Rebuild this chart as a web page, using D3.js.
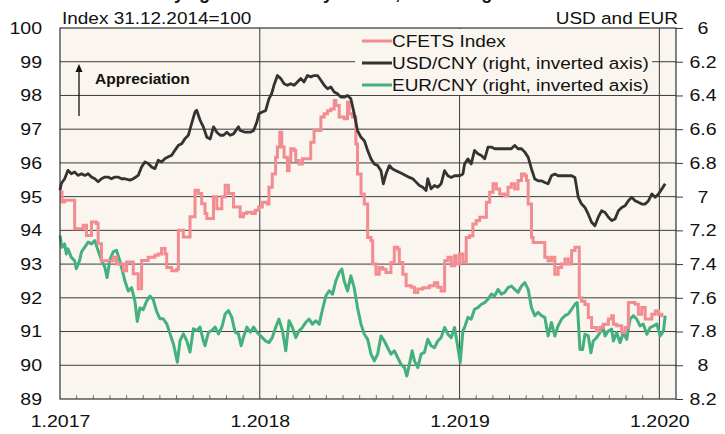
<!DOCTYPE html>
<html>
<head>
<meta charset="utf-8">
<script src="https://cdn.jsdelivr.net/npm/d3@7"></script>
<style>
  body { margin: 0; background: #fff; }
  text { font-family: "Liberation Sans", Arial, sans-serif; fill: #111; }
</style>
</head>
<body>
<svg id="chart" width="725" height="434"></svg>
<script>
// x = months since 1.2017
const yearTicks = [0, 12, 24, 36];
const yearLabels = ["1.2017", "1.2018", "1.2019", "1.2020"];
const leftTicks = [89, 90, 91, 92, 93, 94, 95, 96, 97, 98, 99, 100];
const rightTicks = [6, 6.2, 6.4, 6.6, 6.8, 7, 7.2, 7.4, 7.6, 7.8, 8, 8.2];
const seriesNames = ["CFETS Index", "USD/CNY (right, inverted axis)", "EUR/CNY (right, inverted axis)"];

// CFETS index (left axis)
const cfets = [[0.04,95.14],[0.12,94.84],[0.28,94.89],[0.88,94.05],[1.39,94.15],[1.59,93.85],[1.89,94.25],[2.19,94.2],[2.29,93.6],[2.49,93.1],[3.19,93.2],[3.39,93.0],[3.8,92.8],[4.0,93.06],[4.4,92.71],[4.7,92.27],[4.9,93.11],[5.3,93.2],[5.7,93.26],[5.9,93.3],[6.1,93.46],[6.31,93.3],[6.41,92.9],[6.71,92.8],[7.01,92.85],[7.11,94.0],[7.41,93.8],[7.81,94.4],[8.11,95.19],[8.31,95.09],[8.51,94.79],[8.71,94.5],[8.82,94.35],[9.22,95.0],[9.42,94.64],[9.72,95.0],[9.92,95.34],[10.12,95.09],[10.42,94.69],[10.82,94.4],[11.02,94.5],[11.22,94.54],[11.53,94.5],[11.73,94.6],[11.93,94.69],[12.15,94.83],[12.45,94.78],[12.55,95.28],[12.75,95.67],[12.95,96.17],[13.06,96.47],[13.2,96.91],[13.32,96.47],[13.46,96.17],[13.66,95.77],[13.76,96.07],[13.86,96.42],[14.06,96.37],[14.16,96.07],[14.36,95.97],[14.56,96.12],[15.06,96.61],[15.26,96.96],[15.67,97.36],[15.87,97.46],[16.07,97.55],[16.27,97.6],[16.47,97.85],[16.57,97.7],[16.77,97.36],[17.07,97.31],[17.27,97.8],[17.37,97.46],[17.57,97.36],[17.77,96.56],[17.87,95.67],[18.08,95.08],[18.28,94.78],[18.48,93.79],[18.68,93.69],[18.78,93.0],[18.98,92.7],[19.18,92.9],[19.38,92.85],[19.58,92.75],[19.88,93.05],[20.08,93.5],[20.28,93.45],[20.38,93.05],[20.59,92.7],[20.79,92.36],[21.09,92.31],[21.29,92.16],[21.49,92.26],[21.79,92.3],[22.19,92.36],[22.49,92.45],[22.69,92.31],[22.89,92.2],[23.1,93.1],[23.3,93.2],[23.5,92.95],[23.7,93.25],[23.8,93.0],[24.0,93.3],[24.2,93.05],[24.4,93.79],[24.6,93.84],[24.8,94.19],[25.0,94.29],[25.21,94.39],[25.61,94.83],[25.81,95.13],[26.01,95.38],[26.21,95.23],[26.41,95.08],[26.71,95.03],[26.91,95.28],[27.11,95.38],[27.31,95.23],[27.51,95.48],[27.72,95.67],[27.92,95.62],[28.02,95.48],[28.12,94.78],[28.32,93.79],[28.42,93.64],[29.12,93.2],[29.32,93.1],[29.52,93.2],[29.72,92.7],[29.92,92.9],[30.13,93.0],[30.33,93.15],[30.53,93.0],[30.73,93.4],[30.93,93.5],[31.19,92.0],[31.33,91.9],[31.53,91.8],[31.73,91.42],[31.93,91.12],[32.23,91.02],[32.43,91.12],[32.64,91.22],[32.94,91.37],[33.14,91.47],[33.24,91.22],[33.44,91.17],[33.74,90.97],[33.94,91.12],[34.14,91.86],[34.54,91.81],[34.74,91.51],[34.94,91.71],[35.15,91.37],[35.55,91.51],[35.75,91.61],[35.95,91.51],[36.15,91.47],[36.25,91.47]];

// USD/CNY (right axis, inverted)
const usdcny = [[0,6.962],[0.08,6.922],[0.28,6.894],[0.48,6.844],[0.68,6.864],[0.88,6.854],[1.08,6.874],[1.29,6.864],[1.49,6.874],[1.69,6.864],[1.89,6.884],[2.09,6.894],[2.29,6.912],[2.49,6.894],[2.69,6.884],[2.89,6.884],[3.09,6.894],[3.29,6.884],[3.49,6.884],[3.69,6.894],[3.9,6.894],[4.2,6.902],[4.4,6.894],[4.7,6.874],[4.9,6.824],[5.1,6.794],[5.3,6.804],[5.5,6.824],[5.7,6.834],[5.9,6.784],[6.1,6.794],[6.31,6.774],[6.51,6.764],[6.71,6.754],[6.91,6.724],[7.11,6.696],[7.31,6.686],[7.51,6.656],[7.71,6.636],[7.91,6.566],[8.11,6.498],[8.21,6.488],[8.41,6.546],[8.61,6.586],[8.82,6.648],[9.02,6.658],[9.22,6.586],[9.42,6.618],[9.62,6.636],[9.82,6.636],[10.02,6.618],[10.22,6.636],[10.42,6.628],[10.72,6.586],[10.82,6.608],[11.12,6.618],[11.43,6.618],[11.63,6.608],[11.83,6.556],[11.95,6.508],[12.15,6.498],[12.35,6.49],[12.55,6.42],[12.71,6.39],[12.85,6.34],[13.06,6.282],[13.26,6.3],[13.46,6.33],[13.66,6.34],[13.86,6.33],[14.06,6.34],[14.26,6.32],[14.46,6.3],[14.66,6.32],[14.86,6.282],[15.06,6.29],[15.26,6.282],[15.47,6.282],[15.67,6.31],[15.87,6.34],[16.07,6.36],[16.27,6.35],[16.47,6.38],[16.67,6.39],[16.87,6.41],[17.07,6.41],[17.27,6.4],[17.47,6.42],[17.67,6.508],[17.87,6.608],[18.08,6.648],[18.28,6.668],[18.48,6.726],[18.68,6.776],[18.88,6.806],[19.08,6.816],[19.28,6.846],[19.42,6.924],[19.58,6.866],[19.78,6.816],[19.98,6.836],[20.18,6.846],[20.38,6.856],[20.59,6.866],[20.79,6.876],[20.99,6.886],[21.19,6.894],[21.39,6.914],[21.59,6.934],[21.79,6.944],[21.99,6.964],[22.09,6.894],[22.29,6.954],[22.49,6.934],[22.69,6.944],[22.89,6.924],[23.1,6.846],[23.3,6.876],[23.5,6.886],[23.7,6.876],[24.0,6.876],[24.2,6.866],[24.3,6.806],[24.5,6.776],[24.7,6.806],[24.9,6.726],[25.1,6.746],[25.31,6.756],[25.51,6.776],[25.71,6.706],[25.91,6.706],[26.11,6.716],[26.51,6.716],[26.91,6.716],[27.11,6.716],[27.31,6.696],[27.51,6.716],[27.72,6.716],[27.92,6.736],[28.12,6.766],[28.32,6.836],[28.52,6.896],[28.72,6.906],[28.92,6.906],[29.12,6.916],[29.32,6.924],[29.52,6.876],[29.72,6.866],[29.92,6.876],[30.33,6.876],[30.73,6.876],[30.93,6.886],[31.13,7.004],[31.33,7.044],[31.53,7.064],[31.73,7.104],[31.93,7.152],[32.13,7.172],[32.33,7.122],[32.53,7.084],[32.74,7.094],[32.94,7.122],[33.14,7.142],[33.34,7.132],[33.54,7.084],[33.74,7.064],[33.94,7.054],[34.14,7.024],[34.34,7.004],[34.54,7.024],[34.74,7.034],[34.94,7.044],[35.15,7.044],[35.35,7.024],[35.55,6.984],[35.75,7.004],[35.95,6.984],[36.15,6.954],[36.35,6.924]];

// EUR/CNY (right axis, inverted)
const eurcny = [[0,7.23],[0.12,7.3],[0.28,7.28],[0.38,7.34],[0.48,7.31],[0.68,7.36],[0.88,7.38],[0.98,7.428],[1.18,7.378],[1.29,7.328],[1.49,7.3],[1.69,7.27],[1.89,7.28],[2.09,7.26],[2.29,7.32],[2.49,7.378],[2.69,7.418],[2.83,7.48],[2.99,7.378],[3.19,7.328],[3.39,7.318],[3.59,7.378],[3.69,7.418],[3.9,7.5],[4.1,7.56],[4.3,7.54],[4.5,7.62],[4.64,7.74],[4.8,7.66],[5.0,7.67],[5.2,7.62],[5.4,7.59],[5.6,7.61],[5.8,7.68],[6.0,7.724],[6.2,7.724],[6.41,7.754],[6.61,7.814],[6.81,7.872],[7.05,7.982],[7.21,7.854],[7.41,7.814],[7.61,7.854],[7.81,7.922],[8.01,7.784],[8.21,7.794],[8.41,7.774],[8.61,7.854],[8.71,7.884],[8.92,7.804],[9.12,7.794],[9.32,7.774],[9.52,7.814],[9.72,7.774],[9.92,7.696],[10.12,7.676],[10.32,7.716],[10.52,7.804],[10.72,7.814],[10.88,7.884],[11.02,7.834],[11.22,7.774],[11.43,7.804],[11.63,7.774],[11.83,7.804],[11.95,7.816],[12.15,7.836],[12.35,7.856],[12.55,7.866],[12.75,7.836],[12.95,7.776],[13.15,7.726],[13.36,7.794],[13.56,7.914],[13.76,7.736],[13.96,7.776],[14.16,7.836],[14.36,7.796],[14.56,7.776],[14.76,7.746],[14.96,7.726],[15.16,7.756],[15.36,7.736],[15.57,7.756],[15.77,7.668],[15.97,7.588],[16.17,7.558],[16.37,7.578],[16.57,7.5],[16.77,7.45],[16.93,7.43],[17.07,7.5],[17.27,7.56],[17.47,7.47],[17.67,7.54],[17.87,7.658],[18.08,7.756],[18.28,7.816],[18.48,7.846],[18.68,7.934],[18.88,7.974],[19.08,7.934],[19.28,7.826],[19.48,7.856],[19.68,7.896],[19.88,7.934],[20.08,7.914],[20.28,7.954],[20.48,7.994],[20.69,8.014],[20.83,8.064],[20.99,7.994],[21.15,7.914],[21.29,7.974],[21.49,8.014],[21.69,7.934],[21.89,7.924],[22.09,7.846],[22.29,7.884],[22.49,7.896],[22.69,7.856],[22.89,7.836],[23.1,7.776],[23.3,7.816],[23.5,7.836],[23.7,7.776],[23.9,7.896],[24.04,7.984],[24.2,7.796],[24.3,7.776],[24.5,7.716],[24.7,7.726],[24.9,7.668],[25.1,7.658],[25.31,7.638],[25.51,7.628],[25.71,7.608],[25.91,7.578],[26.11,7.588],[26.31,7.55],[26.51,7.578],[26.71,7.568],[26.91,7.54],[27.11,7.53],[27.31,7.55],[27.51,7.568],[27.72,7.53],[27.92,7.51],[28.12,7.55],[28.32,7.658],[28.52,7.706],[28.72,7.686],[28.92,7.706],[29.12,7.716],[29.32,7.826],[29.52,7.746],[29.72,7.826],[29.92,7.766],[30.13,7.726],[30.33,7.706],[30.53,7.696],[30.73,7.668],[30.93,7.638],[31.07,7.628],[31.23,7.906],[31.39,7.906],[31.53,7.816],[31.73,7.826],[31.89,7.926],[32.03,7.856],[32.23,7.836],[32.43,7.806],[32.6,7.766],[32.74,7.826],[32.94,7.796],[33.14,7.786],[33.24,7.856],[33.44,7.806],[33.64,7.866],[33.84,7.806],[34.04,7.846],[34.24,7.726],[34.44,7.706],[34.64,7.726],[34.84,7.766],[35.04,7.756],[35.25,7.816],[35.45,7.776],[35.65,7.766],[35.85,7.756],[36.05,7.826],[36.25,7.796],[36.35,7.706]];

const colors = ["#f28c91", "#333333", "#43b07f"];

const svg = d3.select("#chart"),
      margin = {top: 28, right: 49, bottom: 35, left: 60},
      W = 725, H = 434,
      innerW = W - margin.left - margin.right,
      innerH = H - margin.top - margin.bottom,
      SX = 1.15; // text in the original is a bit wide

const x = d3.scaleLinear().domain([0, 37]).range([margin.left, margin.left + innerW]),
      yL = d3.scaleLinear().domain([89, 100]).range([margin.top + innerH, margin.top]),
      yR = d3.scaleLinear().domain([8.2, 6]).range([margin.top + innerH, margin.top]);

function stretch(sel) {
  sel.each(function() {
    const t = d3.select(this);
    t.attr("x", (+t.attr("x") || 0) / SX).attr("transform", `scale(${SX},1)`);
  });
}

// headline, cut off at the top edge as in the original
svg.append("text")
    .attr("x", 40).attr("y", -1)
    .style("font-weight", "bold").style("font-size", "18px")
    .text("Renminbi steady against currency basket, weaker against USD");

// plot background
svg.append("rect")
    .attr("x", margin.left).attr("y", margin.top)
    .attr("width", innerW).attr("height", innerH)
    .attr("fill", "#faf5ef");

// horizontal grid
svg.append("g").selectAll("line")
    .data(leftTicks.slice(1, -1))
    .join("line")
    .attr("x1", margin.left).attr("x2", margin.left + innerW)
    .attr("y1", d => yL(d)).attr("y2", d => yL(d))
    .attr("stroke", "#3c3c3c").attr("stroke-width", 1);

// vertical grid at year starts
svg.append("g").selectAll("line")
    .data(yearTicks.slice(1))
    .join("line")
    .attr("x1", d => x(d)).attr("x2", d => x(d))
    .attr("y1", margin.top).attr("y2", margin.top + innerH)
    .attr("stroke", "#3c3c3c").attr("stroke-width", 1);

// monthly minor ticks
svg.append("g").selectAll("line")
    .data(d3.range(1, 37).filter(m => m % 12 !== 0))
    .join("line")
    .attr("x1", d => x(d)).attr("x2", d => x(d))
    .attr("y1", margin.top + innerH).attr("y2", margin.top + innerH - 4)
    .attr("stroke", "#777").attr("stroke-width", 1);

// legend box hides grid behind it
svg.append("rect")
    .attr("x", 355).attr("y", margin.top + 1)
    .attr("width", 297).attr("height", 66)
    .attr("fill", "#faf5ef");

// series
const lineL = d3.line().x(d => x(d[0])).y(d => yL(d[1])).curve(d3.curveStepAfter),
      lineR = d3.line().x(d => x(d[0])).y(d => yR(d[1]));

svg.append("path").datum(eurcny)
    .attr("d", lineR).attr("fill", "none")
    .attr("stroke", colors[2]).attr("stroke-width", 3).attr("stroke-linejoin", "round");
svg.append("path").datum(cfets)
    .attr("d", lineL).attr("fill", "none")
    .attr("stroke", colors[0]).attr("stroke-width", 3);
svg.append("path").datum(usdcny)
    .attr("d", lineR).attr("fill", "none")
    .attr("stroke", colors[1]).attr("stroke-width", 2.8).attr("stroke-linejoin", "round");

// frame
svg.append("rect")
    .attr("x", margin.left).attr("y", margin.top)
    .attr("width", innerW).attr("height", innerH)
    .attr("fill", "none").attr("stroke", "#333").attr("stroke-width", 1.2);

// axes
const leftAxis = svg.append("g")
    .attr("transform", `translate(${margin.left},0)`)
    .call(d3.axisLeft(yL).tickValues(leftTicks).tickSize(0).tickPadding(18));

const rightAxis = svg.append("g")
    .attr("transform", `translate(${margin.left + innerW},0)`)
    .call(d3.axisRight(yR).tickValues(rightTicks).tickSize(7).tickPadding(20)
        .tickFormat(d3.format("~g")));
rightAxis.selectAll("text").attr("text-anchor", "middle").attr("x", 27);
rightAxis.selectAll(".tick line").attr("stroke", "#3c3c3c");

const bottomAxis = svg.append("g")
    .attr("transform", `translate(0,${margin.top + innerH})`)
    .call(d3.axisBottom(x).tickValues(yearTicks).tickSize(0).tickPadding(16)
        .tickFormat((d, i) => yearLabels[i]));

[leftAxis, rightAxis, bottomAxis].forEach(a => {
  a.select(".domain").remove();
  a.selectAll("text").style("font-size", "17px").attr("fill", "#111");
  stretch(a.selectAll("text"));
});

// headers
svg.append("text").attr("x", 62).attr("y", 24)
    .style("font-size", "16.5px").text("Index 31.12.2014=100")
    .call(stretch);
svg.append("text").attr("x", 678).attr("y", 24)
    .attr("text-anchor", "end")
    .style("font-size", "16.5px").text("USD and EUR")
    .call(stretch);

// legend
const legend = svg.append("g").selectAll("g")
    .data(seriesNames)
    .join("g")
    .attr("transform", (d, i) => `translate(362,${41 + i * 22})`);
legend.append("line")
    .attr("x1", 0).attr("x2", 30)
    .attr("stroke", (d, i) => colors[i]).attr("stroke-width", 3);
legend.append("text")
    .attr("x", 30).attr("y", 6)
    .style("font-size", "16.5px")
    .text(d => d)
    .call(stretch);

// appreciation arrow
svg.append("line")
    .attr("x1", 79).attr("x2", 79).attr("y1", 116).attr("y2", 70)
    .attr("stroke", "#111").attr("stroke-width", 1.3);
svg.append("path")
    .attr("d", "M79,64 L75.5,72 L82.5,72 Z").attr("fill", "#111");
svg.append("text").attr("x", 95).attr("y", 84)
    .style("font-size", "15.5px").style("font-weight", "bold")
    .text("Appreciation");
</script>
</body>
</html>
